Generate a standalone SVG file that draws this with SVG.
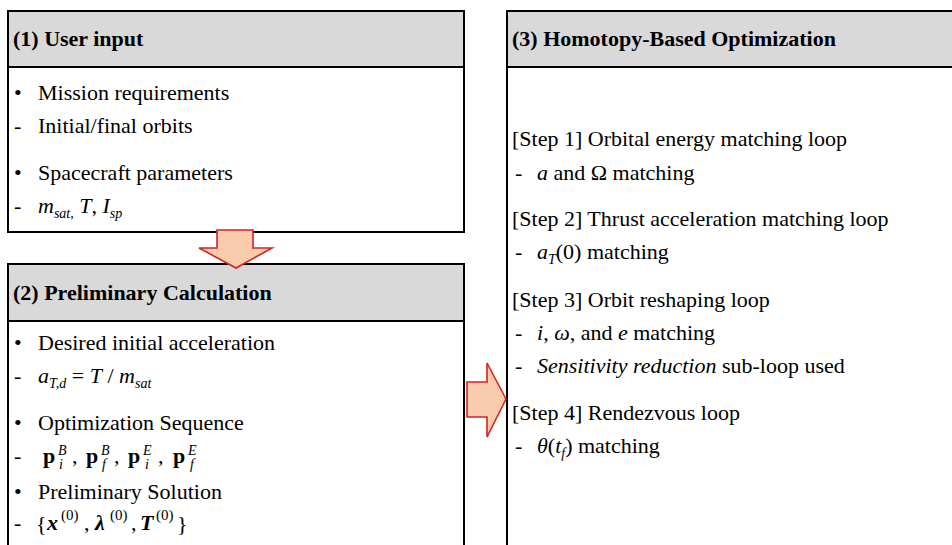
<svg xmlns="http://www.w3.org/2000/svg" width="952" height="545" viewBox="0 0 952 545">
<style>
.box{fill:#ffffff;stroke:#000000;stroke-width:2}
.hdr{fill:#d9d9d9;stroke:#000000;stroke-width:2}
.t{font-family:'Liberation Serif','Tinos','Noto Serif','DejaVu Serif','Times New Roman',Times,serif;font-size:22px;fill:#000000}
.h{font-weight:bold}
.i{font-style:italic}
.s{font-size:14px}
.sp{font-size:15px}
.bi{font-weight:bold;font-style:italic}
.b{font-weight:bold}
.arrow{fill:#f8cbad;stroke:#d42424;stroke-width:1.6;stroke-linejoin:miter}
</style>
<rect width="952" height="545" fill="#ffffff"/>

<g id="node-user-input" class="t">
  <rect class="box" x="8" y="11" width="456" height="221"/>
  <rect class="hdr" x="8" y="11" width="456" height="56"/>
  <text class="h" x="13" y="46">(1) User input</text>
  <text x="14" y="100">•</text><text x="38" y="100">Mission requirements</text>
  <text x="14" y="133">-</text><text x="38" y="133">Initial/final orbits</text>
  <text x="14" y="180">•</text><text x="38" y="180">Spacecraft parameters</text>
  <text x="14" y="213">-</text>
  <text x="38" y="213"><tspan class="i">m</tspan><tspan class="i s" dy="5">sat</tspan><tspan class="s">,</tspan><tspan dy="-5"> </tspan><tspan class="i">T</tspan>, <tspan class="i">I</tspan><tspan class="i s" dy="5">sp</tspan></text>
</g>

<g id="node-preliminary" class="t">
  <rect class="box" x="8" y="264" width="456" height="300"/>
  <rect class="hdr" x="8" y="264" width="456" height="57"/>
  <text class="h" x="13" y="300">(2) Preliminary Calculation</text>
  <text x="14" y="350">•</text><text x="38" y="350">Desired initial acceleration</text>
  <text x="14" y="383">-</text>
  <text x="38" y="383"><tspan class="i">a</tspan><tspan class="i s" dy="5">T,d</tspan><tspan dy="-5"> = </tspan><tspan class="i">T</tspan> / <tspan class="i">m</tspan><tspan class="i s" dy="5">sat</tspan></text>
  <text x="14" y="430">•</text><text x="38" y="430">Optimization Sequence</text>
  <text x="14" y="463">-</text>
  <text class="b" x="43" y="463">p</text><text class="i s" x="58" y="455">B</text><text class="i s" x="59" y="469">i</text>
  <text x="72" y="463">,</text>
  <text class="b" x="86" y="463">p</text><text class="i s" x="101" y="455">B</text><text class="i s" x="102" y="469">f</text>
  <text x="114" y="463">,</text>
  <text class="b" x="128" y="463">p</text><text class="i s" x="143" y="455">E</text><text class="i s" x="145" y="469">i</text>
  <text x="158" y="463">,</text>
  <text class="b" x="173" y="463">p</text><text class="i s" x="188" y="455">E</text><text class="i s" x="190" y="469">f</text>
  <text x="14" y="499">•</text><text x="38" y="499">Preliminary Solution</text>
  <text x="14" y="530">-</text>
  <text x="36" y="531">{</text>
  <text class="bi" x="47" y="530">x</text><text class="sp" x="61" y="520">(0)</text>
  <text x="84" y="530">,</text>
  <text class="bi" x="95" y="530">λ</text><text class="sp" x="110" y="520">(0)</text>
  <text x="131" y="530">,</text>
  <text class="bi" x="140" y="530">T</text><text class="sp" x="156" y="520">(0)</text>
  <text x="177" y="531">}</text>
</g>

<g id="node-homotopy" class="t">
  <rect class="box" x="507" y="11" width="470" height="560"/>
  <rect class="hdr" x="507" y="11" width="470" height="56"/>
  <text class="h" x="512" y="46">(3) Homotopy-Based Optimization</text>
  <text x="512" y="146">[Step 1] Orbital energy matching loop</text>
  <text x="515" y="180">-</text>
  <text x="537" y="180"><tspan class="i">a</tspan> and Ω matching</text>
  <text x="512" y="226">[Step 2] Thrust acceleration matching loop</text>
  <text x="515" y="259">-</text>
  <text x="537" y="259"><tspan class="i">a</tspan><tspan class="i s" dy="5">T</tspan><tspan dy="-5">(0) matching</tspan></text>
  <text x="512" y="307">[Step 3] Orbit reshaping loop</text>
  <text x="515" y="340">-</text>
  <text x="537" y="340"><tspan class="i">i</tspan>, <tspan class="i">ω</tspan>, and <tspan class="i">e</tspan> matching</text>
  <text x="515" y="373">-</text>
  <text x="537" y="373"><tspan class="i">Sensitivity reduction</tspan> sub-loop used</text>
  <text x="512" y="420">[Step 4] Rendezvous loop</text>
  <text x="515" y="453">-</text>
  <text x="537" y="453"><tspan class="i">θ</tspan>(<tspan class="i">t</tspan><tspan class="i s" dy="5">f</tspan><tspan dy="-5">) matching</tspan></text>
</g>

<g id="connectors">
  <polygon class="arrow" points="217,230 253,230 253,248 272,248 236,268 199,248 217,248"/>
  <polygon class="arrow" points="467,382 487,382 487,363 506,399 487,437 487,417 467,417"/>
</g>
</svg>
